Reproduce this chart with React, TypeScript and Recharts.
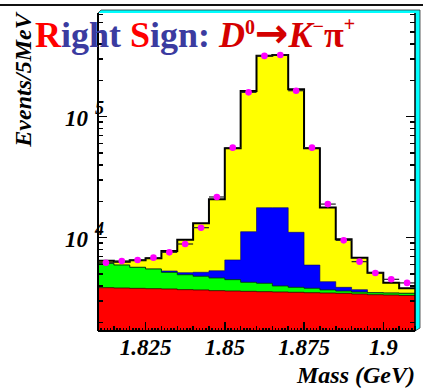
import React from "react";
import { ComposedChart, Area, Scatter, ErrorBar, XAxis, YAxis } from "recharts";

// ---- data (20 bins of 5 MeV) ----
const BIN_LOW = [1.810, 1.815, 1.820, 1.825, 1.830, 1.835, 1.840, 1.845, 1.850, 1.855,
  1.860, 1.865, 1.870, 1.875, 1.880, 1.885, 1.890, 1.895, 1.900, 1.905];
const X_MIN = 1.81;
const X_MAX = 1.91;
const BIN_HALF = 0.0025;

// cumulative stack tops
const TOTAL = [6460, 6340, 6500, 6760, 7760, 9620, 13150, 20750, 54800, 163000,
  319000, 324000, 169000, 54800, 17800, 9700, 6840, 5140, 4250, 3820];
const BLUE_TOP = [6140, 5940, 5690, 5510, 5310, 5140, 5180, 5330, 6550, 11210,
  17700, 17700, 11080, 5940, 4330, 3890, 3720, 3510, 3490, 3470];
const GREEN_TOP = [6140, 5940, 5690, 5510, 5170, 4940, 4800, 4645, 4500, 4280,
  4200, 3990, 3890, 3820, 3700, 3625, 3555, 3510, 3490, 3470];
const RED_TOP = [3863, 3840, 3815, 3790, 3770, 3720, 3700, 3650, 3627, 3605,
  3580, 3560, 3540, 3510, 3490, 3470, 3425, 3380, 3360, 3330];
const DATA_POINTS = [6210, 6410, 6550, 6840, 7570, 8870, 12100, 21700, 55500, 159000,
  318000, 324000, 164000, 55500, 18960, 9510, 6340, 5110, 4530, 4230];

const X_LABEL_VALUES = [1.825, 1.85, 1.875, 1.9];
const X_LABELS = ["1.825", "1.85", "1.875", "1.9"];
const Y_MAJOR = [10000, 100000];
const Y_EXP = ["4", "5"];
const Y_MIN = 1694;
const Y_MAX = 719600;

const FONT = "'Liberation Serif', 'Times New Roman', serif";
const W = 423;
const H = 390;
const MARGIN = { top: 13, right: 0, bottom: 0, left: 0 };

const histData = [
  ...BIN_LOW.map((x, i) => ({ x, total: TOTAL[i], blue: BLUE_TOP[i], green: GREEN_TOP[i], red: RED_TOP[i] })),
  { x: X_MAX, total: TOTAL[TOTAL.length - 1], blue: BLUE_TOP[BLUE_TOP.length - 1], green: GREEN_TOP[GREEN_TOP.length - 1], red: RED_TOP[RED_TOP.length - 1] },
];
const pointData = BIN_LOW.map((x, i) => ({ x: x + BIN_HALF, y: DATA_POINTS[i], ex: BIN_HALF }));

const X_TICKS: number[] = [];
for (let k = 1810; k <= 1910; k++) X_TICKS.push(k / 1000);
const Y_TICKS: number[] = [];
for (const dec of [1000, 10000, 100000]) {
  for (let m = 1; m <= 9; m++) {
    const v = m * dec;
    if (v >= Y_MIN && v <= Y_MAX) Y_TICKS.push(v);
  }
}

const xTickLen = (v: number) => {
  const k = Math.round(v * 1000);
  if (k % 25 === 0) return 9;
  if (k % 5 === 0) return 5;
  return 3;
};
const yTickLen = (v: number) => (Y_MAJOR.includes(v) ? 9 : 5);

const Empty = () => <g />;
const TICK = { stroke: "#000", strokeWidth: 1.5, shapeRendering: "crispEdges" as const };

const BottomTick = (props: any) => {
  const { x, y, payload } = props;
  const v = payload.value;
  const li = X_LABEL_VALUES.findIndex((t) => Math.abs(t - v) < 1e-6);
  return (
    <g>
      <line x1={x} x2={x} y1={y} y2={y - xTickLen(v)} {...TICK} />
      {li >= 0 && (
        <text x={x} y={y + 24} textAnchor="middle" fontFamily={FONT} fontWeight="bold" fontStyle="italic" fontSize={23} fill="#000">
          {X_LABELS[li]}
        </text>
      )}
    </g>
  );
};
const TopTick = (props: any) => {
  const { x, y, payload } = props;
  return <line x1={x} x2={x} y1={y} y2={y + xTickLen(payload.value)} {...TICK} />;
};
const LeftTick = (props: any) => {
  const { x, y, payload } = props;
  const v = payload.value;
  const mi = Y_MAJOR.indexOf(v);
  return (
    <g>
      <line x1={x} x2={x + yTickLen(v)} y1={y} y2={y} {...TICK} />
      {mi >= 0 && (
        <text x={x - 10} y={y + 9} textAnchor="end" fontFamily={FONT} fontWeight="bold" fontStyle="italic" fontSize={23} fill="#000">
          10
        </text>
      )}
      {mi >= 0 && (
        <text x={x - 3} y={y - 3} fontFamily={FONT} fontWeight="bold" fontStyle="italic" fontSize={18} fill="#000">
          {Y_EXP[mi]}
        </text>
      )}
    </g>
  );
};
const RightTick = (props: any) => {
  const { x, y, payload } = props;
  return <line x1={x} x2={x - yTickLen(payload.value)} y1={y} y2={y} {...TICK} />;
};

const YLabel = (props: any) => {
  const vb = props.viewBox || { x: 0, y: 13, width: 98, height: 318 };
  const cx = vb.x + 31;
  const cy = vb.y + 67;
  return (
    <text x={cx} y={cy} transform={`rotate(-90, ${cx}, ${cy})`} textAnchor="middle" fontFamily={FONT} fontWeight="bold" fontStyle="italic" fontSize={24} fill="#000">
      Events/5MeV
    </text>
  );
};
const XLabel = (props: any) => {
  const vb = props.viewBox || { x: 98, y: 331, width: 317, height: 59 };
  return (
    <text x={vb.x + vb.width} y={vb.y + 52} textAnchor="end" fontFamily={FONT} fontWeight="bold" fontStyle="italic" fontSize={24} fill="#000">
      Mass (GeV)
    </text>
  );
};

const Dot = (props: any) => {
  const { cx, cy } = props;
  return <circle cx={cx} cy={cy} r={3.3} fill="#ff00ff" />;
};

function axes(visible: boolean) {
  return [
    <XAxis key="xb" dataKey="x" type="number" domain={[X_MIN, X_MAX]} allowDataOverflow ticks={X_TICKS} interval={0} height={59}
      tickSize={0} tickMargin={0} tickLine={false}
      axisLine={visible ? { stroke: "#000", strokeWidth: 2 } : false}
      tick={visible ? <BottomTick /> : <Empty />}
      label={visible ? <XLabel /> : undefined} />,
    <XAxis key="xt" xAxisId="top" orientation="top" type="number" domain={[X_MIN, X_MAX]} allowDataOverflow ticks={X_TICKS} interval={0} height={0}
      tickSize={0} tickMargin={0} tickLine={false}
      axisLine={visible ? { stroke: "#000", strokeWidth: 1.5 } : false}
      tick={visible ? <TopTick /> : <Empty />} />,
    <YAxis key="yl" type="number" scale="log" domain={[Y_MIN, Y_MAX]} allowDataOverflow ticks={Y_TICKS} interval={0} width={98}
      tickSize={0} tickMargin={0} tickLine={false}
      axisLine={visible ? { stroke: "#000", strokeWidth: 2 } : false}
      tick={visible ? <LeftTick /> : <Empty />}
      label={visible ? <YLabel /> : undefined} />,
    <YAxis key="yr" yAxisId="right" orientation="right" type="number" scale="log" domain={[Y_MIN, Y_MAX]} allowDataOverflow ticks={Y_TICKS} interval={0} width={8}
      tickSize={0} tickMargin={0} tickLine={false}
      axisLine={visible ? { stroke: "#000", strokeWidth: 1.5 } : false}
      tick={visible ? <RightTick /> : <Empty />} />,
  ];
}

export default function App() {
  return (
    <div style={{ position: "absolute", left: 0, top: 0, width: W, height: H, background: "#fff" }}>
      <svg width={W} height={H} style={{ position: "absolute", left: 0, top: 0 }}>
        <rect x={0} y={4} width={W} height={2} fill="#111" />
        <polygon points="98,13 101,10 420,10 420,328 415,331" fill="#00ffff" stroke="#333" strokeWidth={0.8} />
        <rect x={98} y={13} width={317} height={318} fill="#fff" />
      </svg>
      <div style={{ position: "absolute", left: 0, top: 0 }}>
        <ComposedChart width={W} height={H} data={histData} margin={MARGIN}>
          {axes(false)}
          <Area type="stepAfter" dataKey="total" baseValue="dataMin" fill="#ffff00" fillOpacity={1} stroke="#000" strokeWidth={2} dot={false} activeDot={false} isAnimationActive={false} />
          <Area type="stepAfter" dataKey="blue" baseValue="dataMin" fill="#0000ff" fillOpacity={1} stroke="#000066" strokeWidth={0.6} dot={false} activeDot={false} isAnimationActive={false} />
          <Area type="stepAfter" dataKey="green" baseValue="dataMin" fill="#00ff00" fillOpacity={1} stroke="#003300" strokeWidth={0.8} dot={false} activeDot={false} isAnimationActive={false} />
          <Area type="stepAfter" dataKey="red" baseValue="dataMin" fill="#ff0000" fillOpacity={1} stroke="#330000" strokeWidth={0.8} dot={false} activeDot={false} isAnimationActive={false} />
          <Scatter data={pointData} dataKey="y" shape={<Dot />} isAnimationActive={false}>
            <ErrorBar dataKey="ex" direction="x" width={0} stroke="#222" strokeWidth={1.2} />
          </Scatter>
        </ComposedChart>
      </div>
      <div style={{ position: "absolute", left: 0, top: 0, pointerEvents: "none" }}>
        <ComposedChart width={W} height={H} data={histData} margin={MARGIN}>
          {axes(true)}
        </ComposedChart>
      </div>
      <svg width={W} height={H} style={{ position: "absolute", left: 0, top: 0, pointerEvents: "none" }}>
        <text x={35} y={46.5} fontFamily={FONT} fontWeight="bold" fontSize={36}>
          <tspan fill="#ff0000">R</tspan>
          <tspan fill="#3b3ba0">ight </tspan>
          <tspan fill="#ff0000">S</tspan>
          <tspan fill="#3b3ba0">ign: </tspan>
          <tspan fill="#d40000" fontStyle="italic">D</tspan>
          <tspan fill="#d40000" fontSize={20} dy={-13}>0</tspan>
          <tspan fill="#d40000" fontFamily="'DejaVu Sans', sans-serif" fontSize={40} dy={13}>→</tspan>
          <tspan fill="#d40000" fontStyle="italic">K</tspan>
          <tspan fill="#d40000" fontSize={20} dy={-14}>−</tspan>
          <tspan fill="#d40000" dy={14}>π</tspan>
          <tspan fill="#d40000" fontSize={20} dy={-16}>+</tspan>
        </text>
      </svg>
    </div>
  );
}
